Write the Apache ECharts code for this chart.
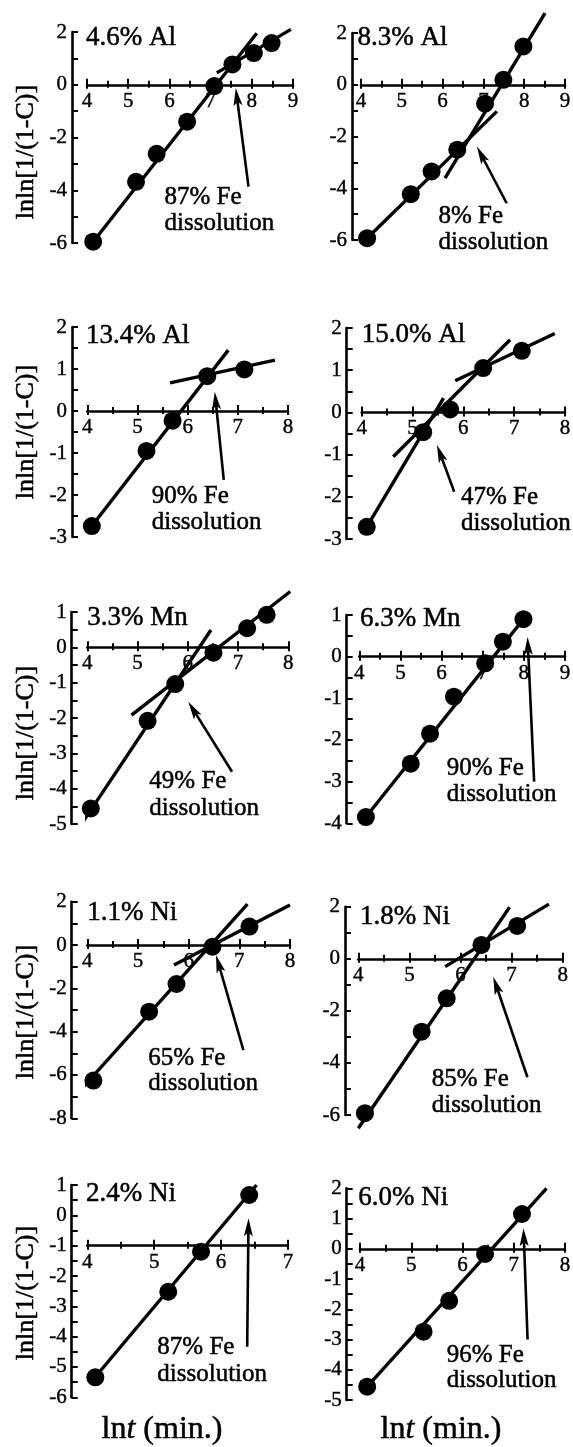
<!DOCTYPE html>
<html><head><meta charset="utf-8">
<script src="https://cdn.jsdelivr.net/npm/echarts@6/dist/echarts.min.js"></script>
<style>html,body{margin:0;padding:0;background:#fff}#c{width:573px;height:1447px}</style>
</head><body><div id="c"></div>
<script>
// ---------------- DATA ----------------
const panelTitles = ['4.6% Al','8.3% Al','13.4% Al','15.0% Al','3.3% Mn','6.3% Mn','1.1% Ni','1.8% Ni','2.4% Ni','6.0% Ni'];
const feDissolution = ['87% Fe','8% Fe','90% Fe','47% Fe','49% Fe','90% Fe','65% Fe','85% Fe','87% Fe','96% Fe'];
const yAxisName = 'lnln[1/(1-C)]';
const xMin = [4,4,4,4,4,4,4,4,4,4];
const xMax = [9,9,8,8,8,9,8,8,7,8];
const yMin = [-6,-6,-3,-3,-5,-4,-8,-6,-6,-5];
const yMax = [2,2,2,2,1,1,2,2,1,2];
const yStep = [2,2,1,1,1,1,2,2,1,1];
const xCross = [0,0,0,0,0,0,0,0,-1,0];

const points_Al46 = [[4.15,-5.95],[5.19,-3.68],[5.69,-2.62],[6.43,-1.4],[7.09,-0.05],[7.53,0.77],[8.05,1.2],[8.48,1.58]];
const points_Al83 = [[4.15,-5.93],[5.22,-4.23],[5.73,-3.35],[6.36,-2.51],[7.04,-0.73],[7.49,0.19],[7.98,1.48]];
const points_Al134 = [[4.09,-2.74],[5.18,-0.95],[5.7,-0.23],[6.39,0.83],[7.13,0.99]];
const points_Al150 = [[4.1,-2.71],[5.21,-0.47],[5.74,0.07],[6.39,1.05],[7.15,1.46]];
const points_Mn33 = [[4.07,-4.56],[5.2,-2.08],[5.75,-1.04],[6.51,-0.15],[7.18,0.54],[7.57,0.92]];
const points_Mn63 = [[4.16,-3.85],[5.25,-2.57],[5.72,-1.85],[6.3,-0.96],[7.06,-0.16],[7.49,0.36],[7.99,0.9]];
const points_Ni11 = [[4.12,-6.26],[5.22,-3.08],[5.76,-1.8],[6.47,-0.08],[7.2,0.85]];
const points_Ni18 = [[4.13,-5.93],[5.24,-2.8],[5.73,-1.52],[6.41,0.53],[7.11,1.26]];
const points_Ni24 = [[4.12,-5.34],[5.21,-2.52],[5.7,-1.2],[6.42,0.67]];
const points_Ni60 = [[4.14,-4.56],[5.24,-2.74],[5.74,-1.72],[6.44,-0.17],[7.16,1.15]];

const fits_Al46 = [[[4.15,-5.95],[8.12,1.95]],[[7.15,0.45],[8.95,2.1]]];
const fits_Al83 = [[[4.15,-5.93],[7.33,-1.03]],[[6.06,-3.61],[8.51,2.77]]];
const fits_Al134 = [[[4.09,-2.74],[6.81,1.45]],[[5.65,0.67],[7.74,1.21]]];
const fits_Al150 = [[[4.1,-2.71],[5.61,0.34]],[[4.62,-1.05],[6.92,1.72]],[[5.84,0.75],[7.8,1.87]]];
const fits_Mn33 = [[[3.89,-4.99],[6.46,0.49]],[[4.88,-1.92],[8.04,1.58]]];
const fits_Mn63 = [[[4.16,-3.85],[7.99,0.9]]];
const fits_Ni11 = [[[3.78,-6.92],[7.16,1.89]],[[5.71,-0.92],[8.0,1.85]]];
const fits_Ni18 = [[[4.0,-6.51],[6.96,1.98]],[[5.7,-0.3],[7.73,2.1]]];
const fits_Ni24 = [[[4.1,-5.38],[6.53,1.0]]];
const fits_Ni60 = [[[4.14,-4.56],[7.64,2.0]]];

// arrow: [tailX, tailY, tipX, tipY]
const arrow_Al46 = [7.92,-3.86,7.61,-0.12];
const arrow_Al83 = [7.57,-4.58,6.84,-2.39];
const arrow_Al134 = [6.72,-1.64,6.54,0.46];
const arrow_Al150 = [5.82,-1.88,5.48,-0.77];
const arrow_Mn33 = [6.88,-3.52,6.01,-1.54];
const arrow_Mn63 = [8.25,-3.0,8.09,0.47];
const arrow_Ni11 = [7.08,-4.85,6.54,-0.46];
const arrow_Ni18 = [7.31,-4.55,6.64,-0.69];
const arrow_Ni24 = [6.39,-4.33,6.41,-0.1];
const arrow_Ni60 = [7.27,-3.0,7.19,0.68];

const pointsList = [points_Al46,points_Al83,points_Al134,points_Al150,points_Mn33,points_Mn63,points_Ni11,points_Ni18,points_Ni24,points_Ni60];
const fitsList = [fits_Al46,fits_Al83,fits_Al134,fits_Al150,fits_Mn33,fits_Mn63,fits_Ni11,fits_Ni18,fits_Ni24,fits_Ni60];
const arrowList = [arrow_Al46,arrow_Al83,arrow_Al134,arrow_Al150,arrow_Mn33,arrow_Mn63,arrow_Ni11,arrow_Ni18,arrow_Ni24,arrow_Ni60];

// ---------------- LAYOUT (pixels) ----------------
const layout = [
  {l:87,   t:32,    r:293,   b:243,    yx:72,    tl:86,    tb:46.7,   al:164.5, b1:206,    b2:232.3},
  {l:361,  t:33,    r:565,   b:240,    yx:352,   tl:357.5, tb:47,     al:438.5, b1:225,    b2:250.7},
  {l:87.3, t:327,   r:288,   b:537,    yx:72,    tl:86,    tb:345,    al:151.7, b1:505,    b2:531},
  {l:361.7,t:328,   r:565,   b:539,    yx:346.7, tl:361.7, tb:344,    al:461,   b1:506,    b2:532.3},
  {l:87.3, t:612,   r:288.3, b:824,    yx:71.7,  tl:87.3,  tb:626.7,  al:149.3, b1:790,    b2:816.7},
  {l:359.3,t:615,   r:565,   b:823.3,  yx:346.7, tl:360,   tb:628.3,  al:446.7, b1:776.7,  b2:803.3},
  {l:87.3, t:901.7, r:290,   b:1118.3, yx:71.7,  tl:87.3,  tb:921.7,  al:148.3, b1:1066.7, b2:1091.7},
  {l:358.3,t:906.7, r:562.7, b:1115,   yx:345,   tl:360,   tb:926,    al:431.7, b1:1088.3, b2:1114},
  {l:87.3, t:1185,  r:288,   b:1397.3, yx:71.7,  tl:86,    tb:1203.3, al:157.3, b1:1356,   b2:1383.3},
  {l:360,  t:1188.3,r:565,   b:1400,   yx:346.7, tl:358.3, tb:1206.7, al:446.7, b1:1364,   b2:1389.3}
];
const yNameCenters = [[26,152],[26,432],[26,733],[26,1012],[26,1293]];
const xNameCenters = [[162,1430],[441,1430]];

const FF = '"Liberation Serif","Times New Roman","DejaVu Serif",serif';
const BLACK = '#000';
const TXT = {fill: BLACK, stroke: BLACK, lineWidth: 0.5};

const grids = [], xAxes = [], yAxes = [], series = [], graphics = [];

function arrowRender(params, api) {
  const a = api.coord([api.value(0), api.value(1)]);
  const b = api.coord([api.value(2), api.value(3)]);
  const dx = b[0] - a[0], dy = b[1] - a[1];
  const len = Math.hypot(dx, dy) || 1;
  const ux = dx / len, uy = dy / len;
  const hl = 18, hw = 4.5;
  const base = [b[0] - ux * hl, b[1] - uy * hl];
  const notch = [b[0] - ux * hl * 0.78, b[1] - uy * hl * 0.78];
  return {
    type: 'group',
    children: [
      {type: 'line', shape: {x1: a[0], y1: a[1], x2: notch[0], y2: notch[1]},
        style: {stroke: BLACK, lineWidth: 2.6}},
      {type: 'polygon', shape: {points: [b, [base[0] - uy * hw, base[1] + ux * hw], notch, [base[0] + uy * hw, base[1] - ux * hw]]},
        style: {fill: BLACK}}
    ]
  };
}

layout.forEach((L, i) => {
  const h = L.b - L.t;
  grids.push({left: L.l, top: L.t, width: L.r - L.l, height: h, containLabel: false, outerBoundsMode: 'none'});
  const off = -((xCross[i] - yMin[i]) / (yMax[i] - yMin[i])) * h;
  const xBase = {
    gridIndex: i, type: 'value', min: xMin[i], max: xMax[i], interval: 1,
    position: 'bottom', offset: off, splitLine: {show: false}, minorSplitLine: {show: false}
  };
  xAxes.push(Object.assign({}, xBase, {
    axisLine: {show: true, onZero: false, lineStyle: {color: BLACK, width: 2.6}},
    axisTick: {show: true, inside: false, length: 4, lineStyle: {color: BLACK, width: 2}},
    minorTick: {show: true, splitNumber: 2, length: 3, lineStyle: {color: BLACK, width: 2}},
    axisLabel: {show: true, margin: 6, fontSize: 21, fontFamily: FF, color: BLACK, textBorderColor: BLACK, textBorderWidth: 0.4}
  }));
  xAxes.push(Object.assign({}, xBase, {
    axisLine: {show: false, onZero: false},
    axisTick: {show: true, inside: true, length: 6, lineStyle: {color: BLACK, width: 2}},
    minorTick: {show: true, splitNumber: 2, length: 4, lineStyle: {color: BLACK, width: 2}},
    axisLabel: {show: false}
  }));
  yAxes.push({
    gridIndex: i, type: 'value', min: yMin[i], max: yMax[i], interval: yStep[i],
    position: 'left', offset: L.l - L.yx,
    axisLine: {show: true, onZero: false, lineStyle: {color: BLACK, width: 2.6}},
    axisTick: {show: true, inside: true, length: 6, lineStyle: {color: BLACK, width: 2}},
    minorTick: {show: true, splitNumber: 2, length: 6, lineStyle: {color: BLACK, width: 2}},
    axisLabel: {show: true, margin: 5, fontSize: 21, fontFamily: FF, color: BLACK, textBorderColor: BLACK, textBorderWidth: 0.4},
    splitLine: {show: false}, minorSplitLine: {show: false}
  });
  fitsList[i].forEach(seg => {
    series.push({
      type: 'line', xAxisIndex: 2 * i, yAxisIndex: i, data: seg,
      symbol: 'none', showSymbol: false, clip: false, silent: true, z: 2,
      lineStyle: {color: BLACK, width: 3.4, opacity: 1}
    });
  });
  series.push({
    type: 'scatter', xAxisIndex: 2 * i, yAxisIndex: i, data: pointsList[i],
    symbol: 'circle', symbolSize: 18, clip: false, silent: true, z: 3,
    itemStyle: {color: BLACK, opacity: 1, borderWidth: 0}
  });
  series.push({
    type: 'custom', coordinateSystem: 'cartesian2d', xAxisIndex: 2 * i, yAxisIndex: i,
    data: [arrowList[i]], encode: {x: [0, 2], y: [1, 3]}, clip: false, silent: true, z: 4,
    renderItem: arrowRender
  });
  graphics.push({type: 'text', x: L.tl, y: L.tb - 0.34 * 27, silent: true,
    style: Object.assign({text: panelTitles[i], font: '27px ' + FF, align: 'left', verticalAlign: 'middle'}, TXT)});
  graphics.push({type: 'text', x: L.al, y: L.b1 - 0.34 * 25, silent: true,
    style: Object.assign({text: feDissolution[i], font: '25px ' + FF, align: 'left', verticalAlign: 'middle'}, TXT)});
  graphics.push({type: 'text', x: L.al, y: L.b2 - 0.34 * 25, silent: true,
    style: Object.assign({text: 'dissolution', font: '25px ' + FF, align: 'left', verticalAlign: 'middle'}, TXT)});
});

yNameCenters.forEach(c => {
  graphics.push({type: 'text', x: c[0], y: c[1], rotation: Math.PI / 2, silent: true,
    style: Object.assign({text: yAxisName, font: '26px ' + FF, align: 'center', verticalAlign: 'middle'}, TXT)});
});
xNameCenters.forEach(c => {
  graphics.push({type: 'text', x: c[0], y: c[1], silent: true,
    style: Object.assign({text: '{n|ln}{i|t}{n| (min.)}', font: '32px ' + FF, align: 'center', verticalAlign: 'middle',
      rich: {n: {fontSize: 32, fontFamily: FF, fill: BLACK, stroke: BLACK, lineWidth: 0.5},
             i: {fontSize: 32, fontFamily: FF, fontStyle: 'italic', fill: BLACK, stroke: BLACK, lineWidth: 0.5}}}, TXT)});
});

const chart = echarts.init(document.getElementById('c'), null, {renderer: 'canvas'});
chart.setOption({
  backgroundColor: '#fff',
  animation: false,
  grid: grids, xAxis: xAxes, yAxis: yAxes, series: series, graphic: graphics
});
</script></body></html>
